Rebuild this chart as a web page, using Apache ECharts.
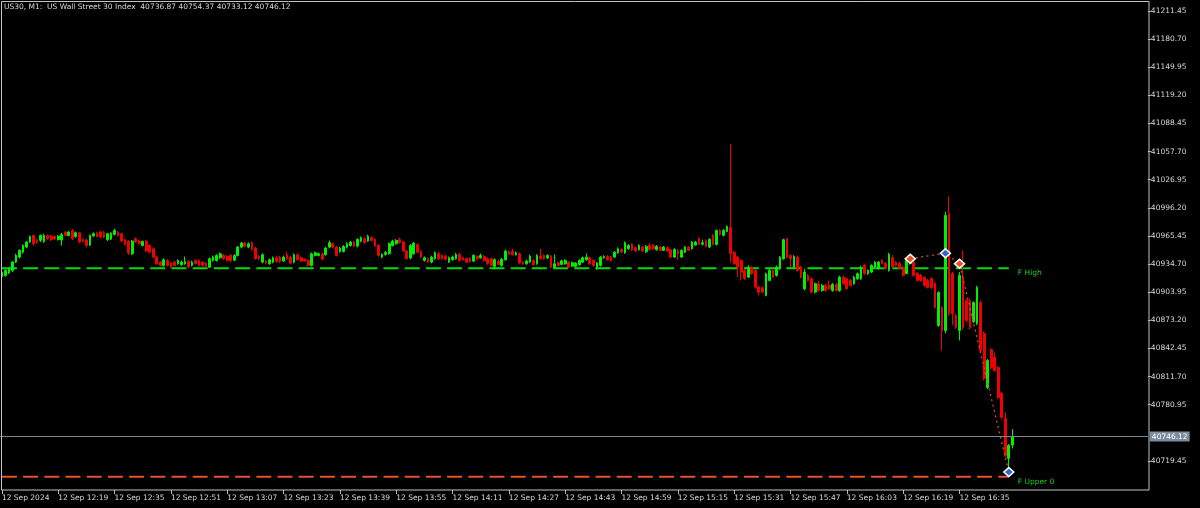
<!DOCTYPE html>
<html><head><meta charset="utf-8">
<script src="https://cdn.jsdelivr.net/npm/echarts@6/dist/echarts.min.js"></script>
<style>html,body{margin:0;padding:0;background:#000;}#c{width:1200px;height:508px;}</style>
</head><body><div id="c"></div>
<script>
// ---- data ----
const titleText = 'US30, M1:  US Wall Street 30 Index  40736.87 40754.37 40733.12 40746.12';
const dateLabel = '12 Sep';
const firstLabel = '12 Sep 2024';
const startMinute = 12 * 60 + 3;   // 12:03
const categoryCount = 326;          // visible slots incl. right shift
const tickEvery = 16;

const opens = [40921,40922.3,40925,40927.8,40937,40942.4,40947.8,40953.3,40958.8,40966.1,40960.6,40960.6,40959.5,40966.1,40965.3,40964.8,40961.7,40961,40969.7,40966,40971.5,40965,40969,40961.7,40961,40955.5,40965.5,40968.3,40969.7,40969,40961.4,40962,40967.2,40969.4,40968,40961.4,40959.9,40946,40962.5,40959.9,40955.1,40959.9,40955.1,40951.5,40942.4,40936.9,40933.3,40938.7,40935.8,40937,40935.1,40934,40935,40937.6,40933.3,40938.7,40938.7,40937,40936,40931.4,40938.7,40938.7,40941.7,40944.2,40943,40944.2,40939,40944.2,40953.3,40957.7,40953.3,40958.1,40952.2,40943.1,40936.9,40938,40935.1,40936.9,40941.7,40942.4,40938,40945,40942.4,40936.9,40945,40941.7,40939.9,40938.7,40933.3,40944.2,40944.2,40946,40945,40953.3,40957,40953.3,40948.6,40948.6,40953.3,40955.1,40958.8,40954.4,40959.9,40962.5,40959.9,40963.6,40961.7,40955.1,40942.4,40945.3,40946.2,40955.1,40957,40961.7,40958.8,40949,40941.3,40946,40956.2,40948.6,40938.7,40940.6,40936.9,40940.6,40946,40944.2,40943.5,40937,40939.5,40940.6,40945.3,40941.7,40940.6,40940.6,40938,40943.1,40941.7,40943.1,40940.6,40940.6,40932.2,40938,40933.3,40939.5,40947.8,40948.9,40944.9,40946,40936.9,40935.1,40936.9,40938.7,40935.1,40943.5,40944.2,40941.3,40943.5,40931.4,40936.2,40934.4,40935.1,40936.9,40932.5,40932.2,40934,40936.9,40939.5,40941.7,40938.7,40931.4,40933.3,40941.7,40943.1,40942.4,40942.4,40947.1,40950.8,40947.1,40951.5,40956.2,40952.6,40950.4,40953.3,40948.2,40955.1,40955.1,40950.4,40953.3,40949.7,40952.6,40950.4,40942.4,40949.7,40942.4,40947.8,40953.3,40951.5,40955.5,40962.5,40956.5,40960.6,40953.3,40966.1,40956.2,40971.5,40966.1,40970.4,40974.9,40947.8,40942.4,40938.7,40927.8,40920.5,40931.4,40927.8,40909.6,40909,40900.5,40916.9,40927.8,40922.3,40929.7,40940.6,40962.5,40944.2,40931.4,40942.4,40931.4,40907.8,40922.3,40918.7,40904.1,40913.2,40905.9,40911.4,40911.4,40905.9,40912.5,40905.9,40920.5,40918.7,40916.9,40913.2,40918.7,40918.7,40933.3,40924.2,40926,40931.4,40929.7,40938.7,40935.5,40927.8,40941.7,40936.5,40935.5,40931.1,40924.5,40935.5,40936.5,40924.5,40922.3,40920.1,40916.9,40919,40913.6,40867.7,40887.3,40862.2,40990.1,40924.5,40878.6,40862.2,40920.1,40895,40895,40872,40869.9,40892.8,40858.9,40799.9,40841.4,40832.7,40821.7,40793.3,40766,40722.3,40736.87];
const highs = [40927,40929,40931,40938,40946,40951,40956.5,40960,40966,40967,40962.5,40967,40968,40967,40966.5,40966,40966.5,40969,40971,40971,40973,40970.5,40970,40963,40962.5,40967,40969.5,40970,40971.5,40971,40969,40970,40973.5,40971,40969,40962.5,40961,40961,40964,40961,40960.5,40961,40956.5,40953,40944,40938,40941,40940,40937,40938.5,40940,40938.5,40943,40939,40938.5,40940,40940,40938,40937,40942,40944,40945.5,40947.5,40946,40944.5,40945.5,40945.5,40954.5,40959,40959,40958.5,40959.5,40953.5,40944.5,40946.5,40939.5,40941,40943,40943.5,40944,40944,40948,40944,40946.5,40946.5,40943,40941,40940,40947.5,40948.5,40947.5,40947.5,40953.5,40960.5,40958.5,40954.5,40953.5,40955.5,40958.5,40960,40960,40963,40965,40964,40966.8,40965,40963,40956.5,40946.5,40949,40958.5,40961.3,40962,40963.6,40960,40950.5,40956.5,40959,40957.5,40950,40943,40942,40944,40948.5,40948,40945.5,40945,40943,40944,40947,40947,40943,40942,40942,40945.5,40944.5,40946.3,40944.5,40942,40942,40941,40939.5,40941.5,40950.5,40949.5,40951.5,40948.5,40947.5,40938,40939.5,40945,40940,40945.5,40951.5,40945.5,40945.5,40945,40945.3,40937.5,40939.5,40940,40938,40937.5,40937,40940,40943,40946.3,40943,40940,40937,40943.5,40944.5,40944.5,40943.5,40949,40953,40952,40959.5,40956.5,40957.5,40954,40956.5,40954.5,40955.5,40957.5,40956.5,40955.5,40954.5,40954.5,40954,40951.5,40952,40951,40951,40954.5,40954.5,40960,40960,40964,40961.5,40962,40963,40967.5,40972.5,40973,40973,40977,41065.6,40949,40943.5,40940,40929.5,40933.5,40933,40929,40911,40910.5,40925.5,40929.5,40929.5,40933,40943.5,40962.5,40963.6,40945.5,40944.5,40944,40933,40929.5,40924,40920,40914.5,40916,40913,40913,40916.9,40914,40914,40922,40922,40920,40918.5,40922,40925.5,40933,40935.1,40929,40934.5,40938,40938,40940,40937,40947,40944.5,40938,40937,40932.5,40940,40940.6,40938,40926,40924,40921.5,40918.5,40920.5,40915,40905,40889,40992,41008.7,40926,40880,40926,40949.7,40897,40897,40894,40911,40895,40861,40831,40843,40838.1,40823,40795,40772.5,40738,40754.37];
const lows = [40920,40921,40924,40926,40936,40941,40946,40952,40958,40955,40957,40959,40958,40961,40960,40961,40960.5,40955,40965,40965,40961,40963.5,40957.5,40958.5,40953,40954.5,40964.5,40964,40963,40963,40960,40961,40966,40965,40959,40955,40945,40944.5,40958,40956,40954,40948,40946.5,40941,40934,40932,40932,40932,40930,40932,40934,40933,40934,40930,40932,40934,40932,40932,40931,40930.5,40937.5,40937.5,40940.5,40939.5,40937.5,40937,40938,40943,40952,40953,40952,40949.5,40939.5,40939,40935.5,40934.5,40934,40935.5,40936.5,40936,40937,40939.5,40934.5,40935.5,40938.5,40937,40937,40932,40932,40943,40943,40939,40944,40952,40952,40943,40947,40947.5,40952,40954,40953.5,40953,40958.5,40957,40959,40959.5,40953.5,40943,40941,40944,40945,40954,40956,40957,40948,40939.5,40940,40945,40946.5,40941,40937.5,40936,40935.5,40939.5,40939.5,40939.5,40939,40936,40938.5,40939.5,40937.5,40938.5,40936,40936.5,40937,40939.5,40940.5,40937.5,40934,40932,40928.9,40933.5,40932,40938.5,40945,40944,40944,40934.5,40934,40934,40936,40933,40934,40939.5,40939.5,40940.5,40930,40930.5,40932,40933.5,40934,40930.5,40931.5,40931,40933,40936,40938.5,40934,40932,40928.5,40932,40940.5,40938.5,40937.5,40941.5,40946,40947,40946,40950.5,40949,40948,40949.5,40948,40947,40949.5,40950.5,40949.5,40949,40949,40948,40941.5,40941.5,40939.5,40941.5,40947,40949,40950.5,40955,40955.5,40955,40953,40952.5,40955.5,40955,40966,40965,40969.5,40936.5,40934,40920.5,40916.9,40917.5,40919.5,40923,40908,40900.5,40902.5,40899.5,40916,40919.5,40921,40928.5,40939.5,40941,40931.4,40930.5,40926.5,40919,40906,40915.5,40902.5,40902.5,40904.5,40904.5,40904.5,40906.5,40904.5,40904.5,40904.5,40912,40906.5,40910,40912,40917.5,40917.5,40923,40923,40925,40930.5,40928.5,40934.5,40929,40926.5,40930.5,40932,40929,40921,40923.5,40934,40921,40915.5,40915.5,40910,40908,40907.5,40886,40866,40840.3,40858.9,40878,40868,40864,40851.3,40863,40871,40863,40870,40868,40838,40807.5,40798,40820,40817,40787.5,40765.5,40723.5,40708.5,40733.12];
const closes = [40925.6,40927.8,40929.7,40937,40944.2,40949.7,40955.1,40958.8,40965,40957,40958.8,40966.1,40966.1,40962.5,40961.7,40962.5,40965.3,40967,40966.1,40969.7,40962.5,40969,40958.8,40959.9,40955.1,40966.1,40968,40965,40964.4,40964,40968,40968.3,40971.5,40966.1,40960,40956.2,40946.7,40959.9,40958.8,40957,40959.5,40949,40947.8,40942.4,40935.1,40933.3,40939.5,40933.3,40931.4,40933.3,40938.7,40937,40937.5,40931.4,40937,40935.1,40933.3,40933.3,40932.2,40940.6,40942.4,40944.2,40946,40940.6,40938.7,40938.7,40944.2,40953.3,40957.7,40954.4,40957,40950.8,40940.6,40940.6,40945,40935.8,40939.5,40941.7,40937.6,40937.6,40942.4,40940.6,40935.8,40945,40939.5,40938,40938,40933.3,40946,40947.1,40946,40940,40952.2,40958.1,40953.3,40944.2,40952.2,40954,40957,40958.8,40954.4,40961.7,40963.6,40958.1,40965.3,40960.6,40954.4,40944.2,40945.3,40947.5,40957,40959.9,40960.6,40958.1,40949,40940.6,40955.1,40957.7,40947.8,40942.4,40941.7,40936.9,40942.4,40947.1,40940.6,40940.6,40939.9,40941.7,40942.4,40945.3,40938.7,40939.5,40936.9,40937.6,40944.2,40940.6,40944.2,40938.7,40935.1,40933.3,40939.5,40934.4,40939.9,40948.9,40946,40944.9,40947.1,40935.8,40935.1,40938,40943.5,40934,40944.2,40940.6,40940.6,40944.2,40931.4,40935.1,40933.3,40938.3,40938.7,40931.4,40936.2,40935.8,40938.7,40941.7,40942.4,40935.1,40933.3,40935.8,40942.4,40943.1,40939.5,40938.7,40947.8,40951.5,40948,40958.1,40955.1,40950.4,40949,40955.1,40949,40954,40950.4,40951.5,40954,40949.7,40953.3,40949,40942.4,40950.8,40946,40949.7,40953.3,40949.7,40958.8,40958.8,40956.2,40958,40954,40961.7,40956.2,40971.5,40967.2,40971.5,40975.9,40946.4,40935.1,40931.4,40926,40918.7,40931.4,40924.2,40909.6,40904.1,40904.1,40924.2,40927.8,40920.5,40931.4,40942.4,40961.4,40942.4,40940.6,40943.1,40927.8,40920.5,40926,40916.9,40904.1,40913.2,40905.9,40911.4,40905.9,40907.8,40912.5,40905.9,40920.5,40913.2,40907.8,40911.4,40920.5,40924.2,40931.4,40924.2,40927.8,40933.3,40936.9,40936.9,40935.5,40930,40945.3,40932,40933.3,40930,40922.3,40938.7,40940,40922.3,40916.9,40916.9,40911.4,40909.2,40909.2,40887.3,40903.7,40862.2,40987.9,40880.8,40880.8,40865.5,40922.3,40865.5,40873.1,40865.5,40892.8,40909.2,40840.3,40809.7,40829.4,40821.7,40818.4,40788.9,40767.1,40725.5,40736.5,40746.12];

const yTickValues = [41211.45,41180.70,41149.95,41119.20,41088.45,41057.70,41026.95,40996.20,40965.45,40934.70,40903.95,40873.20,40842.45,40811.70,40780.95,40719.45];
const yMin = 40687.74, yMax = 41221.29;

const fHigh = 40930.3, fHighLabel = 'F High';
const fUpper0 = 40702.3, fUpper0Label = 'F Upper 0';
const levelEnd = 286;
const zigzagIdx = [258, 268, 272, 286];
const zigzagVal = [40940.6, 40946.7, 40935.1, 40707.3];
const zigzagKind = ['down', 'up', 'down', 'up'];
const lastPrice = 40746.12;

// ---- build ----
const pad = n => (n < 10 ? '0' : '') + n;
const categories = [];
for (let i = 0; i < categoryCount; i++) {
  const m = startMinute + i;
  categories.push(pad(Math.floor(m / 60)) + ':' + pad(m % 60));
}
const candles = opens.map((o, i) => [o, closes[i], lows[i], highs[i]]);
const lastIdx = opens.length - 1;
const showTick = (idx) => idx % tickEvery === 0 && idx <= lastIdx;

const UP = '#00f000', DOWN = '#f00000';
const AX = '#d6d6d6';
const FONT = 'DejaVu Sans';

const chart = echarts.init(document.getElementById('c'), null, {renderer: 'canvas'});
chart.setOption({
  backgroundColor: '#000000',
  animation: false,
  title: {
    text: titleText, left: 4, top: 3, padding: 0,
    textStyle: {color: AX, fontSize: 7.5, fontWeight: 'normal', fontFamily: FONT}
  },
  grid: {left: 0.14, right: 52.14, top: 2, bottom: 18, containLabel: false, outerBoundsMode: 'none'},
  xAxis: {
    type: 'category', data: categories, boundaryGap: true,
    axisLine: {show: false},
    axisTick: {show: true, alignWithLabel: true, interval: showTick, length: 4, lineStyle: {color: '#b8b8b8'}},
    axisLabel: {
      show: true, interval: showTick, align: 'left', margin: 4,
      color: AX, fontSize: 7.5, fontFamily: FONT,
      formatter: (v, idx) => idx === 0 ? firstLabel : dateLabel + ' ' + v
    },
    splitLine: {show: false}
  },
  yAxis: {
    type: 'value', position: 'right', min: yMin, max: yMax, scale: true,
    axisLine: {show: false},
    splitLine: {show: false},
    axisTick: {show: true, length: 3, customValues: yTickValues, lineStyle: {color: '#b8b8b8'}},
    axisLabel: {
      show: true, customValues: yTickValues, margin: 3,
      color: AX, fontSize: 7.5, fontFamily: FONT,
      formatter: v => Number(v).toFixed(2)
    }
  },
  graphic: [{
    type: 'rect', silent: true, z: 100,
    shape: {x: 1.5, y: 1.5, width: 1147.5, height: 488.5},
    style: {fill: null, stroke: '#c4c4c4', lineWidth: 1}
  }],
  series: [
    {
      type: 'line', name: 'F High', z: 2,
      data: [[0, fHigh], [levelEnd, fHigh]],
      showSymbol: false, symbol: 'none',
      lineStyle: {color: '#00dd00', width: 2, type: [15, 6.2]},
      endLabel: {show: true, formatter: fHighLabel, color: '#22cc22', fontSize: 7.5, fontFamily: FONT, distance: 9, offset: [0, 5]}
    },
    {
      type: 'line', name: 'F Upper 0', z: 2,
      data: [[0, fUpper0], [levelEnd, fUpper0]],
      showSymbol: false, symbol: 'none',
      lineStyle: {color: '#e8522a', width: 2, type: [15, 6.2]},
      endLabel: {show: true, formatter: fUpper0Label, color: '#22cc22', fontSize: 7.5, fontFamily: FONT, distance: 9, offset: [0, 5]}
    },
    {
      type: 'candlestick', name: 'US30', z: 3,
      data: candles,
      barWidth: 2.2,
      itemStyle: {color: UP, color0: DOWN, borderColor: UP, borderColor0: DOWN, borderWidth: 1},
      markLine: {
        silent: true, symbol: ['none', 'none'], animation: false,
        lineStyle: {color: '#778899', type: 'solid', width: 1},
        label: {
          show: true, position: 'end', distance: 2,
          formatter: lastPrice.toFixed(2),
          backgroundColor: '#7d8c9c', color: '#ffffff', padding: [1, 2, 1, 2],
          fontSize: 7.5, fontFamily: FONT
        },
        data: [{yAxis: lastPrice}]
      }
    },
    {
      type: 'line', name: 'ZigZag', z: 5,
      data: zigzagIdx.map((x, k) => ({
        value: [x, zigzagVal[k]],
        itemStyle: {color: zigzagKind[k] === 'up' ? '#2f6cc8' : '#e8502a', borderColor: '#ffffff', borderWidth: 1.5}
      })),
      symbol: 'diamond', symbolSize: [10, 9], showSymbol: true, showAllSymbol: true,
      lineStyle: {color: '#e8502a', width: 1.2, type: [2, 3.5]}
    }
  ]
});
</script>
</body></html>
